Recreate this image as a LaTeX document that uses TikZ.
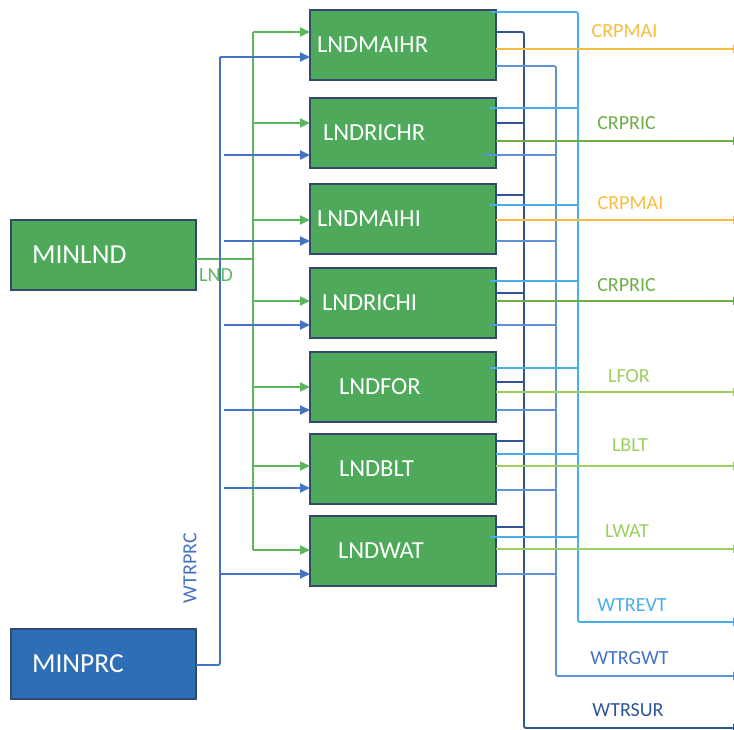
\documentclass[tikz,border=0pt]{standalone}
\usepackage{fontspec}
\setmainfont{Carlito}
\usetikzlibrary{positioning,arrows.meta}
\definecolor{boxgreen}{HTML}{4EAA5A}
\definecolor{boxblue}{HTML}{2D6EB6}
\definecolor{boxedge}{HTML}{34486B}
\definecolor{lndgreen}{HTML}{5BB65E}
\definecolor{prcblue}{HTML}{4472C4}
\definecolor{maiorange}{HTML}{F6BE41}
\definecolor{ricgreen}{HTML}{70AD47}
\definecolor{lgreen}{HTML}{9CCF5E}
\definecolor{evtblue}{HTML}{47AEEA}
\definecolor{gwtblue}{HTML}{5F92D3}
\definecolor{surblue}{HTML}{2F5597}
\tikzstyle{landbox} = [draw=boxedge, line width=1.2pt, fill=boxgreen, text=white, minimum width=186pt, minimum height=70pt, inner sep=0pt, outer sep=0pt, text width=172pt, align=left, font=\fontsize{24.5}{27}\selectfont]
\tikzstyle{minbox} = [draw=boxedge, line width=1.2pt, text=white, minimum width=185pt, minimum height=70pt, inner sep=0pt, outer sep=0pt, text width=143pt, align=left, font=\fontsize{27.5}{30}\selectfont]
\tikzstyle{outlabel} = [inner sep=0pt, font=\fontsize{20}{22}\selectfont]
\tikzstyle{wire} = [line width=1.9pt, rounded corners=2pt]
\tikzstyle{intip} = [-{Triangle[length=10pt,width=9pt]}]
\tikzstyle{outtip} = [-{Triangle[length=9pt,width=8pt]}]

\begin{document}
\begin{tikzpicture}[x=1pt,y=-1pt]
    \useasboundingbox (0,0) rectangle (734,730);

    \node (minlnd) [minbox, fill=boxgreen] at (103.5,255) {MINLND};
    \node (minprc) [minbox, fill=boxblue] at (103.5,664) {MINPRC};

    \node (lndmaihr) [landbox] at (403,45) {LNDMAIHR};
    \node (lndrichr) [landbox, below=18pt of lndmaihr] {\hspace*{6pt}LNDRICHR};
    \node (lndmaihi) [landbox, below=16pt of lndrichr] {LNDMAIHI};
    \node (lndrichi) [landbox, below=14pt of lndmaihi] {\hspace*{5pt}LNDRICHI};
    \node (lndfor) [landbox, below=14pt of lndrichi] {\hspace*{22pt}LNDFOR};
    \node (lndblt) [landbox, below=12pt of lndfor] {\hspace*{22pt}LNDBLT};
    \node (lndwat) [landbox, below=12pt of lndblt] {\hspace*{21pt}LNDWAT};

    % land from MINLND to every box
    \coordinate (lndbus) at (253,259);
    \draw [wire, lndgreen] ([yshift=-4pt]minlnd.east) -- (lndbus);
    \draw [wire, lndgreen] (lndbus |- 0,32) -- (lndbus |- 0,550);
    \node (lndlabel) [outlabel, text=lndgreen, anchor=west] at (199,275) {LND};
    \draw [wire, lndgreen, intip] (lndbus |- 0,32) -- (lndmaihr.west |- 0,32);
    \draw [wire, lndgreen, intip] (lndbus |- 0,123) -- (lndrichr.west |- 0,123);
    \draw [wire, lndgreen, intip] (lndbus |- 0,220) -- (lndmaihi.west |- 0,220);
    \draw [wire, lndgreen, intip] (lndbus |- 0,301) -- (lndrichi.west |- 0,301);
    \draw [wire, lndgreen, intip] (lndbus |- 0,387) -- (lndfor.west |- 0,387);
    \draw [wire, lndgreen, intip] (lndbus |- 0,466) -- (lndblt.west |- 0,466);
    \draw [wire, lndgreen, intip] (lndbus |- 0,550) -- (lndwat.west |- 0,550);

    % water price from MINPRC to every box
    \coordinate (prcbus) at (220,665);
    \draw [wire, prcblue] (minprc.east |- prcbus) -- (prcbus) -- (prcbus |- 0,57);
    \node (prclabel) [outlabel, text=prcblue, rotate=90] at (190,568) {WTRPRC};
    \draw [wire, prcblue, intip] (prcbus |- 0,57) -- (lndmaihr.west |- 0,57);
    \draw [wire, prcblue, intip] (224,155) -- (lndrichr.west |- 0,155);
    \draw [wire, prcblue, intip] (224,241) -- (lndmaihi.west |- 0,241);
    \draw [wire, prcblue, intip] (224,325) -- (lndrichi.west |- 0,325);
    \draw [wire, prcblue, intip] (224,410) -- (lndfor.west |- 0,410);
    \draw [wire, prcblue, intip] (224,488) -- (lndblt.west |- 0,488);
    \draw [wire, prcblue, intip] (prcbus |- 0,574) -- (lndwat.west |- 0,574);

    % collecting lines on the right
    \coordinate (surbus) at (524,728);
    \coordinate (gwtbus) at (556,676);
    \coordinate (evtbus) at (578,622);
    \coordinate (rightedge) at (742,0);

    \draw [wire, surblue, outtip] (lndmaihr.east |- 0,32) -- (surbus |- 0,32) -- (surbus) -- (rightedge |- surbus);
    \draw [wire, surblue] (lndrichr.east |- 0,123) -- (surbus |- 0,123);
    \draw [wire, surblue] (lndmaihi.east |- 0,195) -- (surbus |- 0,195);
    \draw [wire, surblue] (lndrichi.east |- 0,293) -- (surbus |- 0,293);
    \draw [wire, surblue] (lndfor.east |- 0,382) -- (surbus |- 0,382);
    \draw [wire, surblue] (lndblt.east |- 0,441) -- (surbus |- 0,441);
    \draw [wire, surblue] (lndwat.east |- 0,527) -- (surbus |- 0,527);

    \draw [wire, gwtblue, outtip] (lndmaihr.east |- 0,66) -- (gwtbus |- 0,66) -- (gwtbus) -- (rightedge |- gwtbus);
    \draw [wire, gwtblue] ([xshift=-13pt]lndrichr.east |- 0,155) -- (gwtbus |- 0,155);
    \draw [wire, gwtblue] (lndmaihi.east |- 0,241) -- (gwtbus |- 0,241);
    \draw [wire, gwtblue] ([xshift=-6pt]lndrichi.east |- 0,325) -- (gwtbus |- 0,325);
    \draw [wire, gwtblue] (lndfor.east |- 0,410) -- (gwtbus |- 0,410);
    \draw [wire, gwtblue] (lndblt.east |- 0,490) -- (gwtbus |- 0,490);
    \draw [wire, gwtblue] (lndwat.east |- 0,574) -- (gwtbus |- 0,574);

    \draw [wire, evtblue, outtip] ([xshift=-5pt]lndmaihr.east |- 0,12) -- (evtbus |- 0,12) -- (evtbus) -- (rightedge |- evtbus);
    \draw [wire, evtblue] ([xshift=-6pt]lndrichr.east |- 0,108) -- (evtbus |- 0,108);
    \draw [wire, evtblue] ([xshift=-6pt]lndmaihi.east |- 0,205) -- (evtbus |- 0,205);
    \draw [wire, evtblue] ([xshift=-6pt]lndrichi.east |- 0,281) -- (evtbus |- 0,281);
    \draw [wire, evtblue] ([xshift=-6pt]lndfor.east |- 0,368) -- (evtbus |- 0,368);
    \draw [wire, evtblue] (lndblt.east |- 0,454) -- (evtbus |- 0,454);
    \draw [wire, evtblue] ([xshift=-6pt]lndwat.east |- 0,537) -- (evtbus |- 0,537);

    % crop and land use outputs
    \draw [wire, maiorange, outtip] (lndmaihr.east |- 0,49) -- (rightedge |- 0,49);
    \draw [wire, ricgreen, outtip] (lndrichr.east |- 0,141) -- (rightedge |- 0,141);
    \draw [wire, maiorange, outtip] (lndmaihi.east |- 0,220) -- (rightedge |- 0,220);
    \draw [wire, ricgreen, outtip] (lndrichi.east |- 0,301) -- (rightedge |- 0,301);
    \draw [wire, lgreen, outtip] (lndfor.east |- 0,392) -- (rightedge |- 0,392);
    \draw [wire, lgreen, outtip] (lndblt.east |- 0,466) -- (rightedge |- 0,466);
    \draw [wire, lgreen, outtip] (lndwat.east |- 0,549) -- (rightedge |- 0,549);

    \node (crpmaihr) [outlabel, text=maiorange] at (624.5,31) {CRPMAI};
    \node (crprichr) [outlabel, text=ricgreen] at (626.5,123) {CRPRIC};
    \node (crpmaihi) [outlabel, text=maiorange] at (630.5,203) {CRPMAI};
    \node (crprichi) [outlabel, text=ricgreen] at (626.5,285) {CRPRIC};
    \node (lforlabel) [outlabel, text=lgreen] at (629,376) {LFOR};
    \node (lbltlabel) [outlabel, text=lgreen] at (630,445) {LBLT};
    \node (lwatlabel) [outlabel, text=lgreen] at (627,531) {LWAT};
    \node (evtlabel) [outlabel, text=evtblue] at (632,605) {WTREVT};
    \node (gwtlabel) [outlabel, text=prcblue] at (629.5,658) {WTRGWT};
    \node (surlabel) [outlabel, text=surblue] at (628,710) {WTRSUR};
\end{tikzpicture}
\end{document}
